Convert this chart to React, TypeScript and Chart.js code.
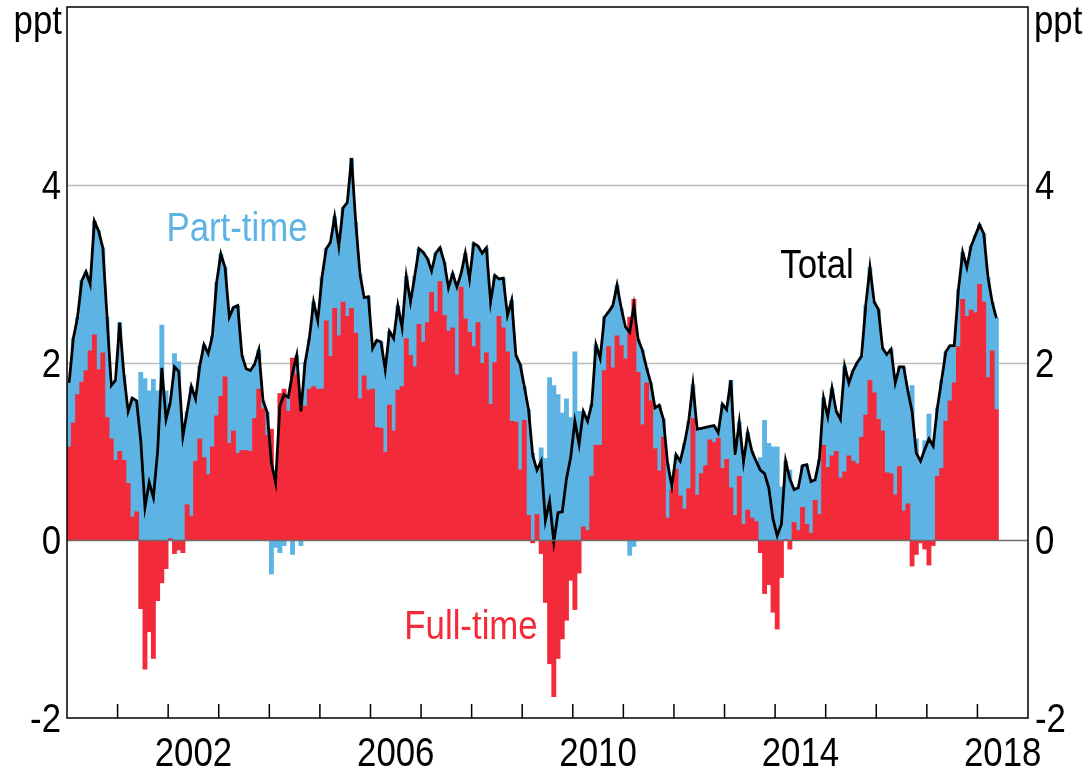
import React, { useEffect, useRef } from "react";
import { Chart, registerables } from "chart.js";

Chart.register(...registerables);

const YEARS = [2000, 2001, 2002, 2003, 2004, 2005, 2006, 2007, 2008, 2009, 2010, 2011, 2012, 2013, 2014, 2015, 2016, 2017, 2018];
const MONTHS = ["01", "02", "03", "04", "05", "06", "07", "08", "09", "10", "11", "12"];
const categories: string[] = [];
YEARS.forEach((y) => MONTHS.forEach((m) => categories.push(`${y}-${m}`)));

// Contributions, ppt (monthly, Jan 2000 - May 2018)
const fullTime = [
  1.05, 1.32, 1.64, 1.78, 1.91, 2.13, 2.31, 1.92, 2.11, 1.38, 1.14, 0.90,
  1.00, 0.90, 0.64, 0.26, 0.32, -0.77, -1.45, -1.03, -1.33, -0.68, -0.48, -0.32,
  0.02, -0.15, -0.11, -0.14, 0.40, 0.27, 0.89, 1.14, 0.93, 0.74, 1.05, 1.40,
  1.62, 1.84, 1.09, 1.23, 0.98, 1.01, 1.01, 1.00, 1.37, 1.70, 1.48, 1.18,
  1.25, 0.73, 1.65, 1.70, 1.45, 2.05, 1.86, 1.51, 1.51, 1.70, 1.73, 1.70,
  1.70, 2.47, 2.07, 2.61, 2.30, 2.68, 2.52, 2.61, 2.33, 1.59, 1.85, 1.69,
  1.70, 1.27, 1.26, 0.99, 1.52, 1.23, 1.69, 1.73, 2.27, 2.08, 1.95, 2.43,
  2.23, 2.45, 2.79, 2.57, 2.91, 2.53, 2.35, 2.39, 1.86, 2.85, 2.49, 2.34,
  2.18, 2.45, 1.99, 2.11, 1.53, 2.00, 2.52, 2.39, 2.12, 1.34, 1.33, 0.79,
  1.35, 0.28, -0.03, 0.29, -0.15, -0.70, -1.39, -1.76, -1.33, -1.11, -0.90, -0.45,
  -0.78, -0.37, 0.15, 0.11, 0.72, 1.07, 1.07, 1.91, 2.18, 1.94, 2.30, 2.19,
  2.04, 2.51, 2.71, 1.89, 1.30, 1.77, 1.57, 1.03, 0.78, 1.16, 0.25, 0.57,
  0.80, 0.50, 0.35, 0.58, 1.37, 0.51, 0.75, 0.84, 1.13, 1.10, 1.15, 0.81,
  0.91, 0.59, 0.28, 0.72, 0.18, 0.34, 0.25, 0.21, -0.14, -0.60, -0.50, -0.81,
  -1.00, -0.42, 0.01, -0.10, 0.20, 0.11, 0.37, 0.18, 0.08, 0.45, 0.29, 1.07,
  0.82, 0.95, 1.00, 0.70, 0.77, 0.95, 0.89, 0.86, 1.16, 1.41, 1.80, 1.66,
  1.36, 1.23, 0.76, 0.75, 0.51, 0.83, 0.33, 0.41, -0.29, -0.16, -0.03, -0.10,
  -0.28, -0.06, 0.72, 0.81, 1.34, 1.57, 1.77, 2.18, 2.71, 2.52, 2.59, 2.56,
  2.88, 2.68, 1.83, 2.13, 1.47,
];

const partTime = [
  0.72, 0.95, 0.87, 1.14, 1.11, 0.75, 1.28, 1.56, 1.18, 1.13, 0.60, 0.90,
  1.45, 0.96, 0.81, 1.34, 1.25, 1.89, 1.82, 1.68, 1.81, 1.68, 2.42, 1.68,
  1.53, 2.10, 2.01, 1.31, 1.05, 1.46, 0.70, 0.82, 1.27, 1.36, 1.25, 1.50,
  1.60, 1.23, 1.42, 1.39, 1.66, 1.07, 0.92, 0.91, 0.61, 0.44, 0.09, 0.26,
  -0.38, -0.08, -0.14, -0.06, 0.16, -0.16, 0.22, -0.06, 0.49, 0.57, 0.95, 0.77,
  1.26, 0.81, 1.28, 1.03, 1.01, 1.06, 1.28, 1.69, 1.25, 1.41, 0.88, 1.05,
  0.46, 0.98, 0.97, 0.93, 0.83, 1.04, 0.95, 0.66, 0.70, 0.60, 1.02, 0.85,
  1.01, 0.72, 0.24, 0.66, 0.38, 0.60, 0.49, 0.61, 0.99, 0.15, 0.74, 0.60,
  1.16, 0.86, 1.24, 1.18, 1.15, 0.98, 0.42, 0.56, 0.41, 1.36, 0.75, 1.19,
  0.38, 1.19, 0.98, 0.50, 1.04, 0.92, 1.83, 1.74, 1.64, 1.43, 1.59, 1.38,
  2.12, 1.45, 1.30, 1.23, 0.81, 1.13, 0.98, 0.60, 0.39, 0.70, 0.57, 0.42,
  0.36, -0.17, -0.07, 0.37, 0.84, 0.17, 0.20, 0.46, 0.74, 0.20, 0.61, 0.04,
  0.16, 0.39, 0.74, 0.76, 0.38, 0.74, 0.51, 0.43, 0.15, 0.19, 0.06, 0.72,
  0.56, 1.21, 0.68, 0.61, 0.70, 0.87, 0.75, 0.68, 0.93, 1.35, 1.09, 1.05,
  1.05, 0.60, 0.88, 0.79, 0.37, 0.48, 0.47, 0.67, 0.58, 0.23, 0.62, 0.53,
  0.57, 0.76, 0.45, 0.66, 1.19, 0.82, 1.02, 1.14, 0.91, 1.23, 1.27, 1.02,
  1.24, 0.93, 1.33, 1.40, 1.26, 1.12, 1.62, 1.27, 1.74, 1.14, 0.92, 1.12,
  1.42, 1.12, 0.77, 0.99, 0.78, 0.62, 0.42, 0.64, 0.53, 0.55, 0.72, 0.87,
  0.67, 0.77, 1.13, 0.55, 1.03,
];

const total = [
  1.77, 2.27, 2.51, 2.92, 3.02, 2.88, 3.59, 3.48, 3.29, 2.51, 1.74, 1.80,
  2.45, 1.86, 1.45, 1.60, 1.57, 1.12, 0.37, 0.65, 0.48, 1.00, 1.94, 1.36,
  1.55, 1.95, 1.90, 1.17, 1.45, 1.73, 1.59, 1.96, 2.20, 2.10, 2.30, 2.90,
  3.22, 3.07, 2.51, 2.62, 2.64, 2.08, 1.93, 1.91, 1.98, 2.14, 1.57, 1.44,
  0.87, 0.65, 1.51, 1.64, 1.61, 1.88, 2.08, 1.45, 2.00, 2.27, 2.68, 2.47,
  2.96, 3.28, 3.35, 3.64, 3.31, 3.74, 3.80, 4.30, 3.58, 3.00, 2.73, 2.74,
  2.16, 2.25, 2.23, 1.92, 2.35, 2.27, 2.64, 2.39, 2.97, 2.68, 2.97, 3.28,
  3.24, 3.17, 3.03, 3.23, 3.29, 3.13, 2.84, 3.00, 2.85, 3.00, 3.23, 2.94,
  3.34, 3.31, 3.23, 3.29, 2.68, 2.98, 2.94, 2.95, 2.53, 2.70, 2.08, 1.98,
  1.73, 1.47, 0.95, 0.79, 0.89, 0.22, 0.44, -0.02, 0.31, 0.32, 0.69, 0.93,
  1.34, 1.08, 1.45, 1.34, 1.53, 2.20, 2.05, 2.51, 2.57, 2.64, 2.87, 2.61,
  2.40, 2.34, 2.64, 2.26, 2.14, 1.94, 1.77, 1.49, 1.52, 1.36, 0.86, 0.61,
  0.96, 0.89, 1.09, 1.34, 1.75, 1.25, 1.26, 1.27, 1.28, 1.29, 1.21, 1.53,
  1.47, 1.80, 0.96, 1.33, 0.88, 1.21, 1.00, 0.89, 0.79, 0.75, 0.59, 0.24,
  0.05, 0.18, 0.89, 0.69, 0.57, 0.59, 0.84, 0.85, 0.66, 0.68, 0.91, 1.60,
  1.39, 1.71, 1.45, 1.36, 1.96, 1.77, 1.91, 2.00, 2.07, 2.64, 3.07, 2.68,
  2.60, 2.16, 2.09, 2.15, 1.77, 1.95, 1.95, 1.68, 1.45, 0.98, 0.89, 1.02,
  1.14, 1.06, 1.49, 1.80, 2.12, 2.19, 2.19, 2.82, 3.24, 3.07, 3.31, 3.43,
  3.55, 3.45, 2.96, 2.68, 2.50,
];

const yTickValues = [-2, 0, 2, 4];
const yGridValues = [2, 4];
const yUnit = "ppt";
const xTickYears = [2001, 2002, 2003, 2004, 2005, 2006, 2007, 2008, 2009, 2010, 2011, 2012, 2013, 2014, 2015, 2016, 2017, 2018];
const xLabelYears = [2002, 2006, 2010, 2014, 2018];

const RED = "#F22A39";
const BLUE = "#5DB4E4";
const FONT = "40px 'Liberation Sans', Arial, Helvetica, sans-serif";
const SX = 0.87;

function drawText(ctx: CanvasRenderingContext2D, s: string, x: number, y: number, align: string, color: string) {
  ctx.save();
  ctx.font = FONT;
  ctx.fillStyle = color;
  ctx.textBaseline = "alphabetic";
  ctx.textAlign = "left";
  const w = ctx.measureText(s).width * SX;
  const x0 = align === "center" ? x - w / 2 : align === "right" ? x - w : x;
  ctx.translate(x0, y);
  ctx.scale(SX, 1);
  ctx.fillText(s, 0, 0);
  ctx.restore();
}

const decorPlugin = {
  id: "decor",
  beforeDatasetsDraw(chart: any) {
    const { ctx, chartArea: a, scales } = chart;
    const ys = scales.y;
    ctx.save();
    ctx.strokeStyle = "#BDBDBD";
    ctx.lineWidth = 1.5;
    yGridValues.forEach((v) => {
      const y = Math.round(ys.getPixelForValue(v)) + 0.5;
      ctx.beginPath();
      ctx.moveTo(a.left, y);
      ctx.lineTo(a.right, y);
      ctx.stroke();
    });
    ctx.restore();
  },
  afterDatasetsDraw(chart: any) {
    const { ctx, chartArea: a, scales } = chart;
    const xs = scales.x;
    const ys = scales.y;
    ctx.save();
    const y0 = Math.round(ys.getPixelForValue(0)) + 0.5;
    ctx.strokeStyle = "#6E6E6E";
    ctx.lineWidth = 1.3;
    ctx.beginPath();
    ctx.moveTo(a.left, y0);
    ctx.lineTo(a.right, y0);
    ctx.stroke();
    ctx.strokeStyle = "#000";
    ctx.lineWidth = 1.5;
    ctx.strokeRect(a.left, a.top, a.right - a.left, a.bottom - a.top);
    const half = (xs.getPixelForValue(1) - xs.getPixelForValue(0)) / 2;
    xTickYears.forEach((yr) => {
      const idx = categories.indexOf(`${yr}-01`);
      const x = xs.getPixelForValue(idx) - half;
      ctx.beginPath();
      ctx.moveTo(x, a.bottom);
      ctx.lineTo(x, a.bottom - 14);
      ctx.stroke();
    });
    ctx.restore();

    xLabelYears.forEach((yr) => {
      const i0 = categories.indexOf(`${yr}-01`);
      const x = (xs.getPixelForValue(i0) + xs.getPixelForValue(i0 + 11)) / 2;
      drawText(ctx, String(yr), x, a.bottom + 48, "center", "#000");
    });
    yTickValues.forEach((v) => {
      const y = ys.getPixelForValue(v) + 14;
      drawText(ctx, String(v), a.left - 6, y, "right", "#000");
      drawText(ctx, String(v), a.right + 7, y, "left", "#000");
    });
    drawText(ctx, yUnit, a.left - 5, a.top + 27, "right", "#000");
    drawText(ctx, yUnit, a.right + 6, a.top + 27, "left", "#000");

    drawText(ctx, "Part-time", 237, 241, "center", BLUE);
    drawText(ctx, "Total", 817, 278, "center", "#000");
    drawText(ctx, "Full-time", 471, 639, "center", RED);
  },
};

export default function App() {
  const ref = useRef<HTMLCanvasElement | null>(null);
  useEffect(() => {
    if (!ref.current) return;
    const chart = new Chart(ref.current, {
      type: "bar",
      data: {
        labels: categories,
        datasets: [
          {
            type: "line",
            label: "Total",
            data: total,
            borderColor: "#000",
            borderWidth: 2.8,
            pointRadius: 0,
            tension: 0,
            fill: false,
            stack: "line",
            order: 0,
          } as any,
          {
            type: "bar",
            label: "Full-time",
            data: fullTime,
            backgroundColor: RED,
            borderWidth: 0,
            barPercentage: 1,
            categoryPercentage: 1,
            stack: "bars",
            order: 1,
          },
          {
            type: "bar",
            label: "Part-time",
            data: partTime,
            backgroundColor: BLUE,
            borderWidth: 0,
            barPercentage: 1,
            categoryPercentage: 1,
            stack: "bars",
            order: 2,
          },
        ],
      },
      options: {
        responsive: false,
        animation: false,
        devicePixelRatio: 1,
        layout: { padding: { left: 67, right: 61, top: 7, bottom: 54 } },
        plugins: { legend: { display: false }, tooltip: { enabled: false }, title: { display: false } },
        scales: {
          x: { type: "category", stacked: true, display: false, offset: true },
          y: { stacked: true, display: false, min: -2, max: 6 },
        },
      },
      plugins: [decorPlugin],
    });
    return () => chart.destroy();
  }, []);
  return (
    <div style={{ position: "absolute", left: 0, top: 0, width: 1089, height: 772, background: "#fff" }}>
      <canvas ref={ref} width={1089} height={772} style={{ display: "block" }} />
    </div>
  );
}
